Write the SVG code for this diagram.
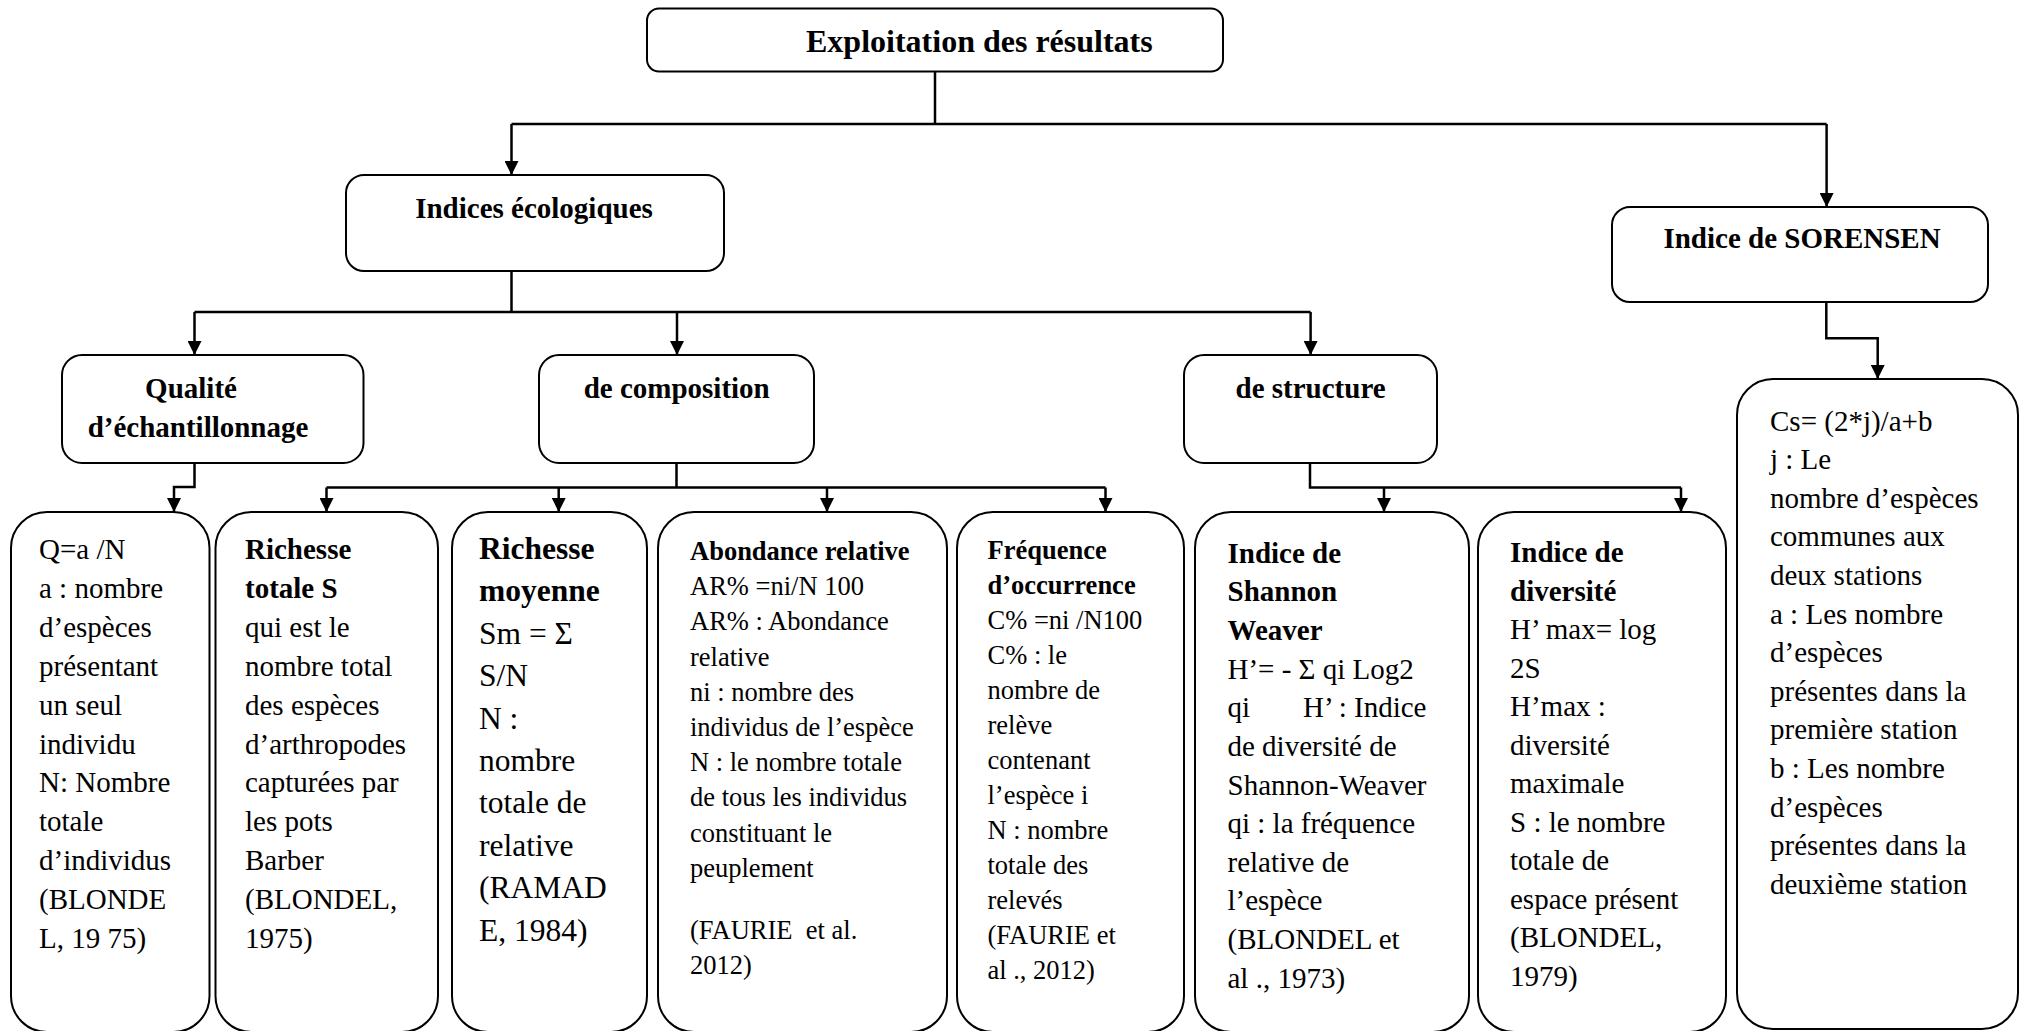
<svg xmlns="http://www.w3.org/2000/svg" width="2019" height="1031" viewBox="0 0 2019 1031">
<defs>
<marker id="arr" viewBox="0 0 10 10" markerWidth="15" markerHeight="14" refX="10" refY="5" orient="auto" markerUnits="userSpaceOnUse">
<path d="M0,0 L10,5 L0,10 z" fill="#000"/>
</marker>
<style>
.box{fill:#fff;stroke:#000;stroke-width:2}
.conn{fill:none;stroke:#000;stroke-width:2.5}
.f{font-family:"Liberation Serif","Times New Roman",serif;fill:#000}
.b{font-weight:bold}
.s29{font-size:29px}
.s26{font-size:26.5px}
.s31{font-size:31.5px}
.s32{font-size:32px}
.m{text-anchor:middle}
</style>
</defs>
<rect width="2019" height="1031" fill="#fff"/>

<g id="connectors">
<path class="conn" d="M935,72 V124 M511.5,124 H1826.6"/>
<path class="conn" d="M511.5,124 V175" marker-end="url(#arr)"/>
<path class="conn" d="M1826.6,124 V207" marker-end="url(#arr)"/>
<path class="conn" d="M511.5,271 V312 M194.5,312 H1310.6"/>
<path class="conn" d="M194.5,312 V355" marker-end="url(#arr)"/>
<path class="conn" d="M677,312 V355" marker-end="url(#arr)"/>
<path class="conn" d="M1310.6,312 V355" marker-end="url(#arr)"/>
<path class="conn" d="M194.5,463 V487 H174 V512" marker-end="url(#arr)"/>
<path class="conn" d="M676.5,463 V487.5 M326.5,487.5 H1105.5"/>
<path class="conn" d="M326.5,487.5 V512" marker-end="url(#arr)"/>
<path class="conn" d="M558.7,487.5 V512" marker-end="url(#arr)"/>
<path class="conn" d="M827,487.5 V512" marker-end="url(#arr)"/>
<path class="conn" d="M1105.5,487.5 V512" marker-end="url(#arr)"/>
<path class="conn" d="M1310,463 V487.5 H1681"/>
<path class="conn" d="M1384,487.5 V512" marker-end="url(#arr)"/>
<path class="conn" d="M1681,487.5 V512" marker-end="url(#arr)"/>
<path class="conn" d="M1826.3,297 V338.3 H1877.7 V379" marker-end="url(#arr)"/>
</g>

<g id="n-exploitation">
<rect class="box" x="647" y="8.5" width="576" height="63" rx="12"/>
<text class="f b s32" x="806" y="52">Exploitation des résultats</text>
</g>

<g id="n-indices">
<rect class="box" x="346" y="175" width="378" height="96" rx="18"/>
<text class="f b s29 m" x="534" y="218">Indices écologiques</text>
</g>

<g id="n-sorensen">
<rect class="box" x="1612" y="207" width="376" height="95" rx="18"/>
<text class="f b s29 m" x="1802" y="248">Indice de SORENSEN</text>
</g>

<g id="n-qualite">
<rect class="box" x="62" y="355" width="301.5" height="108" rx="20"/>
<text class="f b s29 m" x="191" y="398">Qualité</text>
<text class="f b s29 m" x="198" y="437">d’échantillonnage</text>
</g>

<g id="n-composition">
<rect class="box" x="539" y="355" width="275" height="108" rx="20"/>
<text class="f b s29 m" x="676.7" y="398">de composition</text>
</g>

<g id="n-structure">
<rect class="box" x="1184" y="355" width="253" height="108" rx="20"/>
<text class="f b s29 m" x="1310.6" y="398">de structure</text>
</g>

<g id="n-q">
<rect class="box" x="11" y="512" width="198.5" height="520" rx="36"/>
<text class="f s29">
<tspan x="39" y="559">Q=a /N</tspan>
<tspan x="39" y="597.9">a : nombre</tspan>
<tspan x="39" y="636.8">d’espèces</tspan>
<tspan x="39" y="675.7">présentant</tspan>
<tspan x="39" y="714.6">un seul</tspan>
<tspan x="39" y="753.5">individu</tspan>
<tspan x="39" y="792.4">N: Nombre</tspan>
<tspan x="39" y="831.3">totale</tspan>
<tspan x="39" y="870.2">d’individus</tspan>
<tspan x="39" y="909.1">(BLONDE</tspan>
<tspan x="39" y="948">L, 19 75)</tspan>
</text>
</g>

<g id="n-richesse-totale">
<rect class="box" x="215.5" y="512" width="222.5" height="520" rx="36"/>
<text class="f s29">
<tspan x="245" y="559" font-weight="bold">Richesse</tspan>
<tspan x="245" y="597.9" font-weight="bold">totale S</tspan>
<tspan x="245" y="636.8">qui est le</tspan>
<tspan x="245" y="675.7">nombre total</tspan>
<tspan x="245" y="714.6">des espèces</tspan>
<tspan x="245" y="753.5">d’arthropodes</tspan>
<tspan x="245" y="792.4">capturées par</tspan>
<tspan x="245" y="831.3">les pots</tspan>
<tspan x="245" y="870.2">Barber</tspan>
<tspan x="245" y="909.1">(BLONDEL,</tspan>
<tspan x="245" y="948">1975)</tspan>
</text>
</g>

<g id="n-richesse-moyenne">
<rect class="box" x="452" y="512" width="195" height="520" rx="36"/>
<text class="f s31">
<tspan x="479" y="559" font-weight="bold">Richesse</tspan>
<tspan x="479" y="601.4" font-weight="bold">moyenne</tspan>
<tspan x="479" y="643.8">Sm = Σ</tspan>
<tspan x="479" y="686.2">S/N</tspan>
<tspan x="479" y="728.6">N :</tspan>
<tspan x="479" y="771">nombre</tspan>
<tspan x="479" y="813.4">totale de</tspan>
<tspan x="479" y="855.8">relative</tspan>
<tspan x="479" y="898.2">(RAMAD</tspan>
<tspan x="479" y="940.6">E, 1984)</tspan>
</text>
</g>

<g id="n-abondance">
<rect class="box" x="658" y="512" width="289" height="520" rx="36"/>
<text class="f s26" style="white-space:pre">
<tspan x="690" y="560" font-weight="bold">Abondance relative</tspan>
<tspan x="690" y="595.2">AR% =ni/N 100</tspan>
<tspan x="690" y="630.4">AR% : Abondance</tspan>
<tspan x="690" y="665.6">relative</tspan>
<tspan x="690" y="700.8">ni : nombre des</tspan>
<tspan x="690" y="736">individus de l’espèce</tspan>
<tspan x="690" y="771.2">N : le nombre totale</tspan>
<tspan x="690" y="806.4">de tous les individus</tspan>
<tspan x="690" y="841.6">constituant le</tspan>
<tspan x="690" y="876.8">peuplement</tspan>
<tspan x="690" y="938.5">(FAURIE  et al.</tspan>
<tspan x="690" y="974">2012)</tspan>
</text>
</g>

<g id="n-frequence">
<rect class="box" x="957" y="512" width="227" height="520" rx="36"/>
<text class="f s26">
<tspan x="987.5" y="559" font-weight="bold">Fréquence</tspan>
<tspan x="987.5" y="594" font-weight="bold">d’occurrence</tspan>
<tspan x="987.5" y="629">C% =ni /N100</tspan>
<tspan x="987.5" y="664">C% : le</tspan>
<tspan x="987.5" y="699">nombre de</tspan>
<tspan x="987.5" y="734">relève</tspan>
<tspan x="987.5" y="769">contenant</tspan>
<tspan x="987.5" y="804">l’espèce i</tspan>
<tspan x="987.5" y="839">N : nombre</tspan>
<tspan x="987.5" y="874">totale des</tspan>
<tspan x="987.5" y="909">relevés</tspan>
<tspan x="987.5" y="944">(FAURIE et</tspan>
<tspan x="987.5" y="979">al ., 2012)</tspan>
</text>
</g>

<g id="n-shannon">
<rect class="box" x="1195" y="512" width="274" height="520" rx="36"/>
<text class="f s29">
<tspan x="1227.5" y="562.6" font-weight="bold">Indice de</tspan>
<tspan x="1227.5" y="601.2" font-weight="bold">Shannon</tspan>
<tspan x="1227.5" y="639.9" font-weight="bold">Weaver</tspan>
<tspan x="1227.5" y="678.5">H’= - Σ qi Log2</tspan>
<tspan x="1227.5" y="717.2">qi</tspan><tspan x="1303" y="717.2">H’ : Indice</tspan>
<tspan x="1227.5" y="755.8">de diversité de</tspan>
<tspan x="1227.5" y="794.5">Shannon-Weaver</tspan>
<tspan x="1227.5" y="833.1">qi : la fréquence</tspan>
<tspan x="1227.5" y="871.8">relative de</tspan>
<tspan x="1227.5" y="910.4">l’espèce</tspan>
<tspan x="1227.5" y="949.1">(BLONDEL et</tspan>
<tspan x="1227.5" y="987.7">al ., 1973)</tspan>
</text>
</g>

<g id="n-diversite">
<rect class="box" x="1478" y="512" width="248" height="520" rx="36"/>
<text class="f s29">
<tspan x="1510" y="562" font-weight="bold">Indice de</tspan>
<tspan x="1510" y="600.5" font-weight="bold">diversité</tspan>
<tspan x="1510" y="639">H’ max= log</tspan>
<tspan x="1510" y="677.5">2S</tspan>
<tspan x="1510" y="716">H’max :</tspan>
<tspan x="1510" y="754.5">diversité</tspan>
<tspan x="1510" y="793">maximale</tspan>
<tspan x="1510" y="831.5">S : le nombre</tspan>
<tspan x="1510" y="870">totale de</tspan>
<tspan x="1510" y="908.5">espace présent</tspan>
<tspan x="1510" y="947">(BLONDEL,</tspan>
<tspan x="1510" y="985.5">1979)</tspan>
</text>
</g>

<g id="n-cs">
<rect class="box" x="1737" y="379" width="281" height="650" rx="36"/>
<text class="f s29">
<tspan x="1770" y="430.6">Cs= (2*j)/a+b</tspan>
<tspan x="1770" y="469.2">j : Le</tspan>
<tspan x="1770" y="507.8">nombre d’espèces</tspan>
<tspan x="1770" y="546.4">communes aux</tspan>
<tspan x="1770" y="585">deux stations</tspan>
<tspan x="1770" y="623.6">a : Les nombre</tspan>
<tspan x="1770" y="662.2">d’espèces</tspan>
<tspan x="1770" y="700.8">présentes dans la</tspan>
<tspan x="1770" y="739.4">première station</tspan>
<tspan x="1770" y="778">b : Les nombre</tspan>
<tspan x="1770" y="816.6">d’espèces</tspan>
<tspan x="1770" y="855.2">présentes dans la</tspan>
<tspan x="1770" y="893.8">deuxième station</tspan>
</text>
</g>
</svg>
